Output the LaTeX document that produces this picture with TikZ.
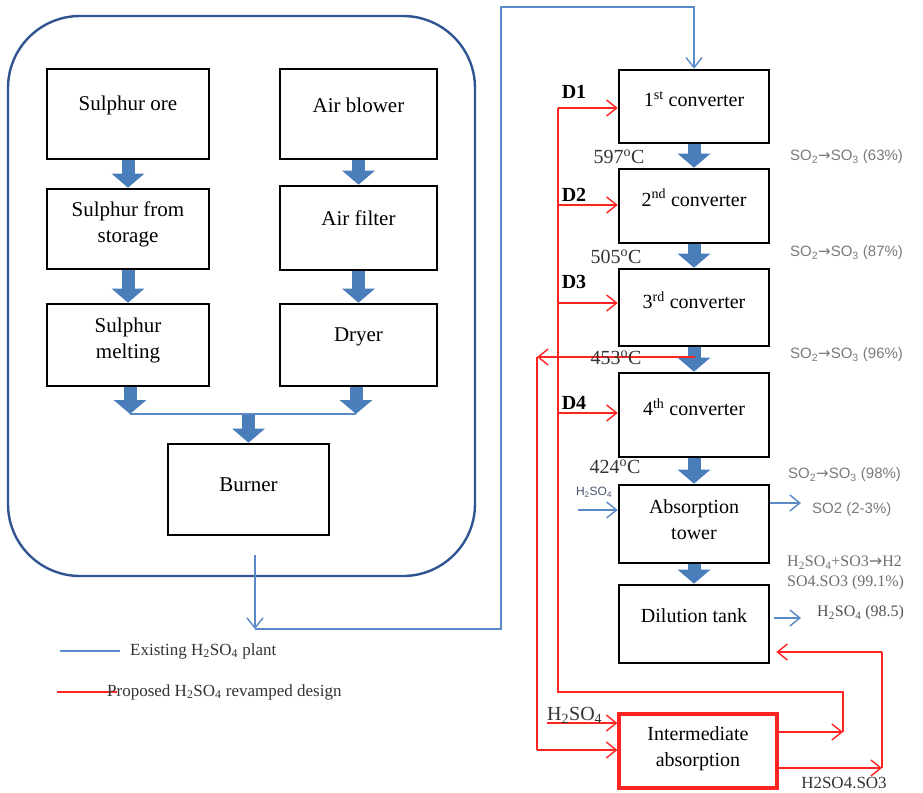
\documentclass[tikz,border=0pt]{standalone}
\usepackage{fontspec}
\setmainfont{Liberation Serif}
\newfontfamily\lsans{Liberation Sans}
\newfontfamily\dvs{DejaVu Sans}
\usetikzlibrary{arrows.meta}
\definecolor{blkc}{HTML}{4A7EBB}
\definecolor{thinb}{HTML}{5A8AC6}
\definecolor{framec}{HTML}{2E5591}
\definecolor{redc}{HTML}{FF2424}
\definecolor{graytxt}{HTML}{7A7A7A}
\definecolor{darktxt}{HTML}{333333}
\definecolor{smallblue}{HTML}{44546A}
\newcommand\rarrow{{\dvs →}}
\begin{document}
\begin{tikzpicture}[x=1pt,y=-1pt,
  box/.style={draw=black, line width=2.6pt, inner sep=0pt},
  lbox/.style={box, minimum width=162pt},
  ablox/.style={box, minimum width=157pt},
  rbox/.style={box, minimum width=150pt},
  ltxt/.style={font=\fontsize{21}{26}\selectfont, align=center, inner sep=0pt},
  rtxt/.style={font=\fontsize{20}{26}\selectfont, align=center, inner sep=0pt},
  blkarrow/.style={draw=blkc, line width=13pt, -{Triangle[width=32pt,length=14pt]}},
  thinl/.style={draw=thinb, line width=1.4pt},
  thinarr/.style={thinl, -{Straight Barb[length=10pt,width=16pt]}},
  redl/.style={draw=redc, line width=1.4pt},
  redarr/.style={redl, -{Straight Barb[length=10pt,width=16pt]}},
  graylab/.style={font=\lsans\fontsize{15}{18}\selectfont, text=graytxt, inner sep=0pt},
  temp/.style={font=\fontsize{20}{24}\selectfont, text=darktxt, inner sep=0pt},
  dlab/.style={font=\bfseries\fontsize{20}{24}\selectfont, inner sep=0pt}
]
\useasboundingbox (0,0) rectangle (923,792);

% plant frame
\node[draw=framec, line width=2.4pt, rounded corners=72pt, minimum width=467pt, minimum height=560pt, inner sep=0pt] (plant) at (241.5,296) {};

% left boxes
\node[lbox, minimum height=90pt] (ore) at (128,114) {};
\node[ltxt] (oret) at ([yshift=9pt]ore.center) {Sulphur ore};
\node[ablox, minimum height=90pt] (blower) at (358.5,114) {};
\node[ltxt] (blowert) at ([yshift=9pt]blower.center) {Air blower};
\node[lbox, minimum height=80pt] (storage) at (128,229) {};
\node[ltxt] (storaget) at ([yshift=5pt]storage.center) {Sulphur from\\storage};
\node[ablox, minimum height=84pt] (filter) at (358.5,228) {};
\node[ltxt] (filtert) at ([yshift=10pt]filter.center) {Air filter};
\node[lbox, minimum height=82pt] (melt) at (128,345) {};
\node[ltxt] (meltt) at ([yshift=5pt]melt.center) {Sulphur\\melting};
\node[ablox, minimum height=82pt] (dryer) at (358.5,345) {};
\node[ltxt] (dryert) at ([yshift=8pt]dryer.center) {Dryer};
\node[box, minimum width=161pt, minimum height=91pt] (burner) at (248.5,489.5) {};
\node[ltxt] (burnert) at ([yshift=5pt]burner.center) {Burner};

% left block arrows
\draw[blkarrow] (ore.south) -- (storage.north);
\draw[blkarrow] (storage.south) -- (melt.north);
\draw[blkarrow] (blower.south) -- (filter.north);
\draw[blkarrow] (filter.south) -- (dryer.north);
\coordinate (mergeL) at (130,414);
\coordinate (mergeR) at (356,414);
\draw[blkarrow] (mergeL |- melt.south) -- (mergeL);
\draw[blkarrow] (mergeR |- dryer.south) -- (mergeR);
\draw[thinl] (mergeL) -- (mergeR);
\draw[blkarrow] (burner.north |- 0,415) -- (burner.north);

% right boxes
\node[rbox, minimum height=73pt] (c1) at (694,106.5) {};
\node[rtxt] (c1t) at ([yshift=7.5pt]c1.center) {1\textsuperscript{st} converter};
\node[rbox, minimum height=74pt] (c2) at (694,206) {};
\node[rtxt] (c2t) at ([yshift=8pt]c2.center) {2\textsuperscript{nd} converter};
\node[rbox, minimum height=77pt] (c3) at (694,307.5) {};
\node[rtxt] (c3t) at ([yshift=7.5pt]c3.center) {3\textsuperscript{rd} converter};
\node[rbox, minimum height=84pt] (c4) at (694,415) {};
\node[rtxt] (c4t) at ([yshift=8pt]c4.center) {4\textsuperscript{th} converter};
\node[rbox, minimum height=78pt] (abs) at (694,524) {};
\node[rtxt] (abst) at ([yshift=4.5pt]abs.center) {Absorption\\tower};
\node[rbox, minimum height=78pt] (dil) at (694,624) {};
\node[rtxt] (dilt) at ([yshift=8pt]dil.center) {Dilution tank};
\node[draw=redc, line width=3.2pt, inner sep=0pt, minimum width=158pt, minimum height=74pt] (ia) at (698,751) {};
\node[rtxt] (iat) at ([yshift=2.5pt]ia.center) {Intermediate\\absorption};

% right block arrows
\draw[blkarrow] (c1.south) -- (c2.north);
\draw[blkarrow] (c2.south) -- (c3.north);
\draw[blkarrow] (c3.south) -- (c4.north);
\draw[blkarrow] (c4.south) -- (abs.north);
\draw[blkarrow] (abs.south) -- (dil.north);

% existing plant blue connectors
\coordinate (bstart) at (255,555);
\coordinate (bturn) at (255,629);
\draw[thinarr] (bstart) -- (bturn);
\draw[thinarr] (bturn) -- (501,629) -- (501,7) -- (c1.north |- 0,7) -- (c1.north);
\coordinate (h2in) at (578,510);
\draw[thinarr] (h2in) -- (abs.west |- h2in);
\node[font=\lsans\fontsize{12}{14}\selectfont, text=smallblue, inner sep=0pt] (h2inl) at (594,492) {H\textsubscript{2}SO\textsubscript{4}};
\coordinate (so2out) at (801,503);
\draw[thinarr] (abs.east |- so2out) -- (so2out);
\node[graylab, anchor=west] (so2l) at (812,510) {SO2 (2-3\%)};
\coordinate (h2out) at (801,618);
\draw[thinarr] ([xshift=4pt]dil.east |- h2out) -- (h2out);
\node[font=\fontsize{16}{18}\selectfont, text=darktxt!85, inner sep=0pt, anchor=west] (h2outl) at (817,613) {H\textsubscript{2}SO\textsubscript{4} (98.5)};

% conversion labels
\node[graylab, anchor=west] (r1) at (790,157) {SO\textsubscript{2}\rarrow SO\textsubscript{3} (63\%)};
\node[graylab, anchor=west] (r2) at (790,253) {SO\textsubscript{2}\rarrow SO\textsubscript{3} (87\%)};
\node[graylab, anchor=west] (r3) at (790,355) {SO\textsubscript{2}\rarrow SO\textsubscript{3} (96\%)};
\node[graylab, anchor=west] (r4) at (788,475) {SO\textsubscript{2}\rarrow SO\textsubscript{3} (98\%)};
\node[font=\fontsize{16}{20}\selectfont, text=graytxt!90!black, inner sep=0pt, anchor=west, align=left] (r5) at (787,573) {H\textsubscript{2}SO\textsubscript{4}+SO3\rarrow H2\\SO4.SO3 (99.1\%)};

% red proposed connectors
\coordinate (rx) at (558,0);
\coordinate (ox) at (537,0);
\foreach \c/\yy in {c1/108, c2/205, c3/303, c4/413}
  \draw[redarr] (rx |- 0,\yy) -- (\c.west |- 0,\yy);
\draw[redarr] (ia.east |- 0,732) -- (843,732);
\draw[redl] (843,732) -- (843,692) -- (rx |- 0,692) -- (rx |- 0,108);
\draw[redarr] (695,357) -- (ox |- 0,357);
\draw[redl] (ox |- 0,357) -- (ox |- 0,750);
\draw[redarr] (ox |- 0,750) -- (ia.west |- 0,750);
\coordinate (h2red) at (547,723);
\draw[redarr] (h2red) -- (ia.west |- h2red);
\node[font=\fontsize{20}{24}\selectfont, text=darktxt, inner sep=0pt, anchor=base west] (h2redl) at (547,720) {H\textsubscript{2}SO\textsubscript{4}};
\draw[redarr] (ia.east |- 0,768) -- (882,768);
\draw[redl] (882,768) -- (882,652);
\draw[redarr] (882,652) -- ([xshift=6pt]dil.east |- 0,652);
\node[font=\fontsize{17}{20}\selectfont, text=darktxt, inner sep=0pt] (h2so3) at (844,783) {H2SO4.SO3};

% temperatures and D labels
\node[temp] (t1) at (619,157) {597\textsuperscript{o}C};
\node[temp] (t2) at (616,257) {505\textsuperscript{o}C};
\node[temp] (t3) at (616,358) {453\textsuperscript{o}C};
\node[temp] (t4) at (615,467) {424\textsuperscript{o}C};
\node[dlab] (d1) at (574,92) {D1};
\node[dlab] (d2) at (574,195) {D2};
\node[dlab] (d3) at (574,282) {D3};
\node[dlab] (d4) at (574,403) {D4};

% legend
\draw[thinl] (60,651) -- (120,651);
\node[font=\fontsize{17}{20}\selectfont, text=darktxt, inner sep=0pt, anchor=west] (leg1) at (130,651) {Existing H\textsubscript{2}SO\textsubscript{4} plant};
\draw[redl] (57,692) -- (117,692);
\node[font=\fontsize{17}{20}\selectfont, text=darktxt, inner sep=0pt, anchor=west] (leg2) at (107,692) {Proposed H\textsubscript{2}SO\textsubscript{4} revamped design};
\end{tikzpicture}
\end{document}
